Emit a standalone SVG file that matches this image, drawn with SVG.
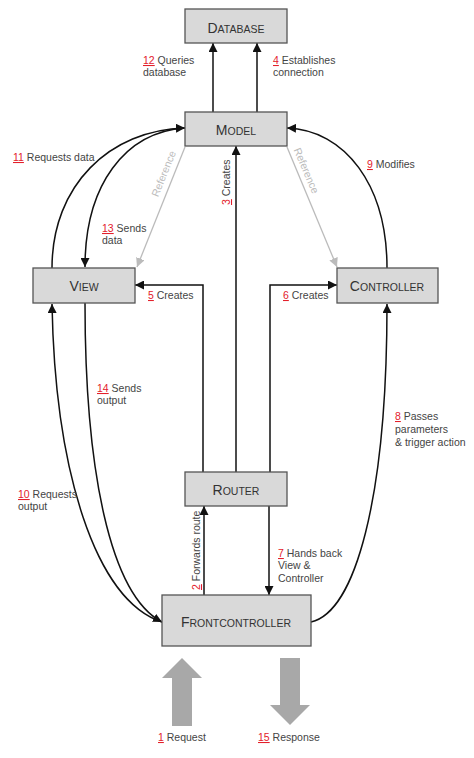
<svg xmlns="http://www.w3.org/2000/svg" width="474" height="758" viewBox="0 0 474 758">
<style>
.box{fill:#d9d9d9;stroke:#555;stroke-width:1.3}
.nl{font-family:"Liberation Sans",Arial,sans-serif;fill:#333;text-anchor:middle}
.big{font-size:14px}
.sm{font-size:10.5px}
.lbl{font-family:"Liberation Sans",Arial,sans-serif;font-size:10.5px;fill:#444}
.num{fill:#e3202b;text-decoration:underline}
.c{fill:none;stroke:#111;stroke-width:1.5;marker-end:url(#ah)}
.ref{fill:none;stroke:#bbb;stroke-width:1.3;marker-end:url(#ahg)}
.reft{font-family:"Liberation Sans",Arial,sans-serif;font-size:10.5px;fill:#bbb;text-anchor:middle}
.big-arrow{fill:#a8a8a8}
</style>
<defs>
<marker id="ah" viewBox="0 0 10 10" refX="10" refY="5" markerWidth="9" markerHeight="9" orient="auto" markerUnits="userSpaceOnUse"><path d="M0,0 L10,5 L0,10 z" fill="#111"/></marker>
<marker id="ahg" viewBox="0 0 10 10" refX="10" refY="5" markerWidth="9" markerHeight="9" orient="auto" markerUnits="userSpaceOnUse"><path d="M0,0 L10,5 L0,10 z" fill="#bbb"/></marker>
</defs>

<g id="connectors">
<path class="c" d="M213,112 L213,43"/>
<path class="c" d="M257,112 L257,43"/>
<path class="c" d="M236,472 L236,146"/>
<path class="c" d="M203,472 L203,285 L135,285"/>
<path class="c" d="M270,472 L270,285 L337,285"/>
<path class="c" d="M204,595 L204,506"/>
<path class="c" d="M269,506 L269,595"/>
<path class="ref" d="M185,147 L137,267"/>
<path class="ref" d="M287,147 L337,267"/>
<path class="c" d="M52,268 C52,185 110,130 185,128"/>
<path class="c" d="M185,128 C125,132 85,185 85,267"/>
<path class="c" d="M387,268 C387,185 345,130 287,128"/>
<path class="c" d="M162,622 C95,600 55,470 52,304"/>
<path class="c" d="M85,303 C85,470 110,595 162,622"/>
<path class="c" d="M311,622 C355,612 387,500 387,304"/>
</g>

<g id="database"><rect class="box" x="185" y="9" width="102" height="34"/><text class="nl" x="236" y="33"><tspan class="big">D</tspan><tspan class="sm">ATABASE</tspan></text></g>
<g id="model"><rect class="box" x="185" y="112" width="102" height="34"/><text class="nl" x="236" y="135"><tspan class="big">M</tspan><tspan class="sm">ODEL</tspan></text></g>
<g id="view"><rect class="box" x="33" y="268" width="102" height="35"/><text class="nl" x="84" y="291"><tspan class="big">V</tspan><tspan class="sm">IEW</tspan></text></g>
<g id="controller"><rect class="box" x="337" y="268" width="101" height="35"/><text class="nl" x="387" y="291"><tspan class="big">C</tspan><tspan class="sm">ONTROLLER</tspan></text></g>
<g id="router"><rect class="box" x="185" y="472" width="102" height="34"/><text class="nl" x="236" y="495"><tspan class="big">R</tspan><tspan class="sm">OUTER</tspan></text></g>
<g id="frontcontroller"><rect class="box" x="162" y="595" width="149" height="51"/><text class="nl" x="236" y="627"><tspan class="big">F</tspan><tspan class="sm">RONTCONTROLLER</tspan></text></g>

<g id="big-arrows">
<path class="big-arrow" d="M172,726 L172,678 L162,678 L182,658 L202,678 L192,678 L192,726 z"/>
<path class="big-arrow" d="M280,658 L300,658 L300,705 L310,705 L290,725 L270,705 L280,705 z"/>
</g>

<g id="labels">
<text class="lbl" x="143" y="64"><tspan class="num">12</tspan> Queries</text>
<text class="lbl" x="143" y="76">database</text>
<text class="lbl" x="273" y="64"><tspan class="num">4</tspan> Establishes</text>
<text class="lbl" x="273" y="76">connection</text>
<text class="lbl" x="13" y="161"><tspan class="num">11</tspan> Requests data</text>
<text class="lbl" x="102" y="232"><tspan class="num">13</tspan> Sends</text>
<text class="lbl" x="102" y="244">data</text>
<text class="lbl" x="367" y="168"><tspan class="num">9</tspan> Modifies</text>
<text class="lbl" x="148" y="299"><tspan class="num">5</tspan> Creates</text>
<text class="lbl" x="283" y="299"><tspan class="num">6</tspan> Creates</text>
<text class="lbl" transform="translate(230,205) rotate(-90)"><tspan class="num">3</tspan> Creates</text>
<text class="lbl" transform="translate(200,590) rotate(-90)"><tspan class="num">2</tspan> Forwards route</text>
<text class="lbl" x="278" y="557"><tspan class="num">7</tspan> Hands back</text>
<text class="lbl" x="278" y="569">View &amp;</text>
<text class="lbl" x="278" y="582">Controller</text>
<text class="lbl" x="97" y="392"><tspan class="num">14</tspan> Sends</text>
<text class="lbl" x="97" y="404">output</text>
<text class="lbl" x="18" y="498"><tspan class="num">10</tspan> Requests</text>
<text class="lbl" x="18" y="510">output</text>
<text class="lbl" x="395" y="420"><tspan class="num">8</tspan> Passes</text>
<text class="lbl" x="395" y="433">parameters</text>
<text class="lbl" x="395" y="446">&amp; trigger action</text>
<text class="lbl" x="158" y="741"><tspan class="num">1</tspan> Request</text>
<text class="lbl" x="258" y="741"><tspan class="num">15</tspan> Response</text>
<text class="reft" transform="translate(167,175) rotate(-68)">Reference</text>
<text class="reft" transform="translate(303,172) rotate(67)">Reference</text>
</g>
</svg>
